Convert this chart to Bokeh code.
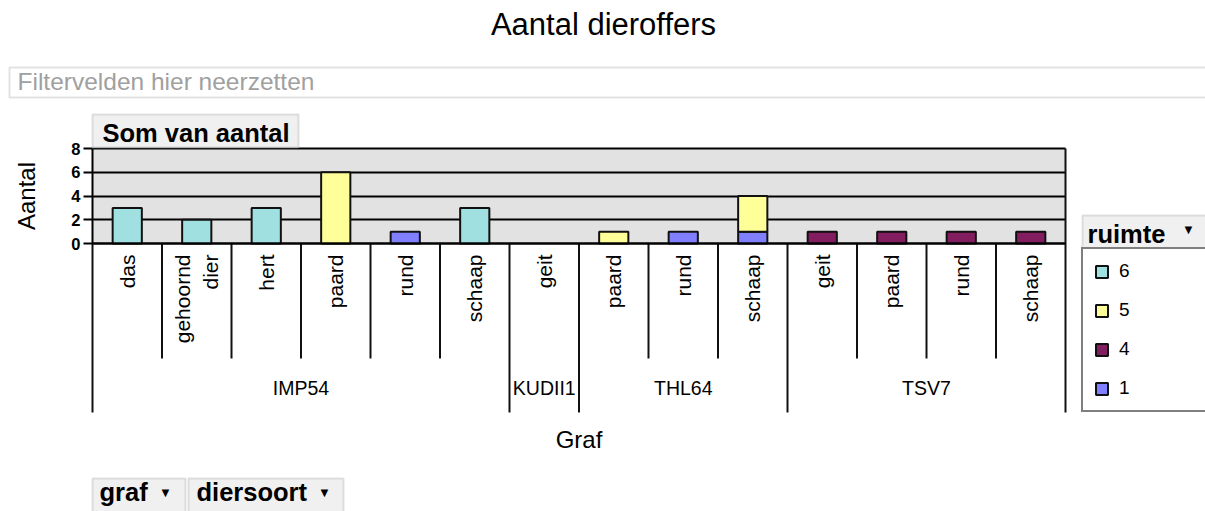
import math
from bokeh.plotting import figure
from bokeh.models import (Range1d, FixedTicker, BoxAnnotation, Label, Legend, LegendItem,
                          ColumnDataSource, LinearAxis, Grid)
from bokeh.embed import file_html
from bokeh.resources import INLINE

# ---------------- data ----------------
title = "Aantal dieroffers"
graf = ["IMP54"] * 6 + ["KUDII1"] + ["THL64"] * 3 + ["TSV7"] * 4
diersoort = ["das", "gehoornd dier", "hert", "paard", "rund", "schaap",
             "geit",
             "paard", "rund", "schaap",
             "geit", "paard", "rund", "schaap"]
# values per "ruimte" series
r1 = [0, 0, 0, 0, 1, 0, 0, 0, 1, 1, 0, 0, 0, 0]
r4 = [0, 0, 0, 0, 0, 0, 0, 0, 0, 0, 1, 1, 1, 1]
r5 = [0, 0, 0, 6, 0, 0, 0, 1, 0, 3, 0, 0, 0, 0]
r6 = [3, 2, 3, 0, 0, 3, 0, 0, 0, 0, 0, 0, 0, 0]
legend_order = ["6", "5", "4", "1"]
y_ticks = [0, 2, 4, 6, 8]

colors = {"1": "#8080FF", "4": "#821E5F", "5": "#FFFF99", "6": "#A0E0E0"}
FONT = "Liberation Sans"
INK = "#111111"

# ---------------- geometry (page pixels) ----------------
W, H = 1205, 511
PX_L, PX_R = 92.0, 1065.0      # plot area left/right
PY_0, PY_8 = 243.0, 148.0      # y=0 and y=8
n = len(diersoort)
ux = (PX_R - PX_L) / n
uy = (PY_0 - PY_8) / 8.0


def ydat(Y):
    return (PY_0 - Y) / uy


x_range = Range1d(-PX_L / ux, n + (W - PX_R) / ux)
y_range = Range1d(ydat(H), ydat(0))

p = figure(width=W, height=H, x_range=x_range, y_range=y_range,
           x_axis_location=None, y_axis_location=None,
           output_backend="svg", toolbar_location=None,
           min_border=0, min_border_left=0, min_border_right=0,
           min_border_top=0, min_border_bottom=0)
p.outline_line_color = None
p.background_fill_color = "white"
p.border_fill_color = "white"
p.grid.visible = False

# plot area background
p.add_layout(BoxAnnotation(left=0, right=n, bottom=0, top=8, fill_color="#E2E2E2",
                           fill_alpha=1, line_color=None, level="image"))

# horizontal grid lines
ticker = FixedTicker(ticks=y_ticks)
p.add_layout(Grid(dimension=1, ticker=ticker, bounds=(0, 8), cross_bounds=(0, n),
                  grid_line_color="black", grid_line_width=2))

# y axis
yax = LinearAxis(fixed_location=0, ticker=ticker, bounds=(0, 8))
yax.axis_line_color = "black"
yax.axis_line_width = 2
yax.major_tick_line_color = "black"
yax.major_tick_line_width = 2
yax.major_tick_out = 9
yax.major_tick_in = 0
yax.minor_tick_line_color = None
yax.major_label_standoff = 3
yax.major_label_text_font = FONT
yax.major_label_text_font_size = "16.5px"
yax.major_label_text_font_style = "bold"
yax.major_label_text_color = "black"
yax.axis_label = "Aantal"
yax.axis_label_text_font = FONT
yax.axis_label_text_font_size = "24px"
yax.axis_label_text_font_style = "normal"
yax.axis_label_text_color = "black"
yax.axis_label_standoff = 28
p.add_layout(yax, "left")

# category axis (diersoort) at y = 0
cat_pos = [i + 0.5 for i in range(n)]
xax = LinearAxis(fixed_location=0, ticker=FixedTicker(ticks=cat_pos), bounds=(0, n),
                 major_label_overrides={c: d.replace(" ", "\n") for c, d in zip(cat_pos, diersoort)})
xax.axis_line_color = "black"
xax.axis_line_width = 2
xax.major_tick_line_color = None
xax.minor_tick_line_color = None
xax.major_tick_out = 0
xax.major_tick_in = 0
xax.major_label_orientation = math.pi / 2
xax.major_label_standoff = 11
xax.major_label_text_font = FONT
xax.major_label_text_font_size = "21px"
xax.major_label_text_color = "black"
p.add_layout(xax, "below")

# group axis (graf)
group_edges = [0] + [i for i in range(1, n) if graf[i] != graf[i - 1]] + [n]
gnames = [graf[group_edges[k]] for k in range(len(group_edges) - 1)]
gpos = [(group_edges[k] + group_edges[k + 1]) / 2 for k in range(len(group_edges) - 1)]
gax = LinearAxis(fixed_location=ydat(376), ticker=FixedTicker(ticks=gpos), bounds=(0, n),
                 major_label_overrides={g: name for g, name in zip(gpos, gnames)})
gax.axis_line_color = None
gax.major_tick_line_color = None
gax.minor_tick_line_color = None
gax.major_tick_out = 0
gax.major_tick_in = 0
gax.major_label_standoff = 0
gax.major_label_text_font = FONT
gax.major_label_text_font_size = "19.5px"
gax.major_label_text_color = "black"
gax.axis_label = "Graf"
gax.axis_label_text_font = FONT
gax.axis_label_text_font_size = "24px"
gax.axis_label_text_font_style = "normal"
gax.axis_label_text_color = "black"
gax.axis_label_standoff = 24
p.add_layout(gax, "below")

# stacked bars (bottom -> top: 1, 4, 5, 6)
series = [("1", r1), ("4", r4), ("5", r5), ("6", r6)]
base = [0] * n
rends = {}
for name, vals in series:
    idx = [i for i, v in enumerate(vals) if v > 0]
    src = ColumnDataSource(dict(x=[cat_pos[i] for i in idx],
                                bottom=[base[i] for i in idx],
                                top=[base[i] + vals[i] for i in idx]))
    rends[name] = p.vbar(x="x", bottom="bottom", top="top", width=0.42, source=src,
                         fill_color=colors[name], line_color=INK, line_width=2)
    for i in idx:
        base[i] += vals[i]

# separators of the category axis
inner = [b for b in range(1, n) if b not in group_edges]
p.segment(x0=inner, x1=inner, y0=[0] * len(inner), y1=[ydat(358)] * len(inner),
          line_color=INK, line_width=2)
p.segment(x0=group_edges, x1=group_edges,
          y0=[8 if e == n else 0 for e in group_edges],
          y1=[ydat(412)] * len(group_edges), line_color=INK, line_width=2)


# ---------------- pivot-chart decorations (screen px) ----------------
def box(X0, X1, Y0, Y1, fill="#F0F0F0", line="#A0A0A0"):
    p.add_layout(BoxAnnotation(left=X0, right=X1, top=H - Y0, bottom=H - Y1,
                               left_units="screen", right_units="screen",
                               top_units="screen", bottom_units="screen",
                               fill_color=fill, fill_alpha=1, line_color=line,
                               line_width=2))


def label(text, X, Ymid, size, style="normal", align="left", color="black"):
    p.add_layout(Label(x=X, y=H - Ymid, x_units="screen", y_units="screen",
                       text=text, text_font=FONT, text_font_size=size,
                       text_font_style=style, text_align=align,
                       text_baseline="middle", text_color=color))


BOLD = "25.5px"
label(title, 603, 24, "31px", align="center")
box(9, 1230, 67, 97, fill="white", line="#A0A0A0")
label("Filtervelden hier neerzetten", 17, 81, "24.5px", color="#A0A0A0")
box(92, 298, 114, 147)
label("Som van aantal", 102, 132, BOLD, style="bold")
box(1082, 1230, 215, 249)
label("ruimte", 1087, 233, BOLD, style="bold")
label("\u25BC", 1188, 229, "13px", align="center")
box(92, 185, 478, 520)
label("graf", 99, 491, BOLD, style="bold")
label("\u25BC", 165, 492, "13px", align="center")
box(188, 343, 478, 520)
label("diersoort", 196, 491, BOLD, style="bold")
label("\u25BC", 324, 492, "13px", align="center")

legend = Legend(items=[LegendItem(label=k, renderers=[rends[k]]) for k in legend_order],
                location=(1081, H - 412), orientation="vertical",
                border_line_color="black", border_line_width=2,
                background_fill_color="white", background_fill_alpha=1,
                padding=11, spacing=17, margin=0,
                label_height=20, label_width=80, glyph_height=15, glyph_width=15,
                label_standoff=10, label_text_font=FONT, label_text_font_size="19px",
                label_text_color="black")
p.add_layout(legend)

open("out.html", "w").write(file_html(p, INLINE))
